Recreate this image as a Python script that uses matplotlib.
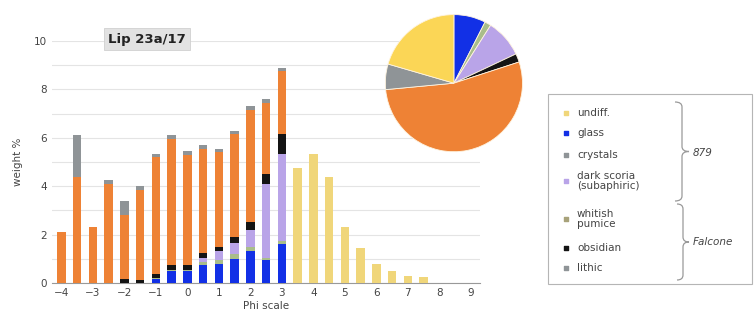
import numpy as np
import matplotlib
matplotlib.use("Agg")
import matplotlib.pyplot as plt
from matplotlib.path import Path
from matplotlib.patches import PathPatch, Rectangle

# ---- data ----
phi = [-4, -3.5, -3, -2.5, -2, -1.5, -1, -0.5, 0, 0.5, 1, 1.5, 2, 2.5, 3]
glass    = [0, 0, 0, 0, 0, 0, 0.15, 0.5, 0.5, 0.75, 0.8, 1.0, 1.3, 0.95, 1.6]
crystals = [0, 0, 0, 0, 0, 0, 0.05, 0.05, 0.05, 0.1, 0.15, 0.2, 0.2, 0.1, 0.15]
scoria   = [0, 0, 0, 0, 0, 0, 0, 0, 0, 0.2, 0.35, 0.45, 0.7, 3.05, 3.6]
obsidian = [0, 0, 0, 0, 0.15, 0.12, 0.15, 0.2, 0.2, 0.2, 0.2, 0.25, 0.3, 0.4, 0.8]
pumice   = [2.1, 4.4, 2.3, 4.1, 2.65, 3.73, 4.85, 5.2, 4.55, 4.3, 3.9, 4.25, 4.65, 2.95, 2.6]
lithic   = [0, 1.7, 0, 0.15, 0.6, 0.15, 0.15, 0.15, 0.15, 0.15, 0.15, 0.15, 0.15, 0.15, 0.15]

phi_fine = [3.5, 4, 4.5, 5, 5.5, 6, 6.5, 7, 7.5]
undiff   = [4.75, 5.35, 4.4, 2.3, 1.45, 0.8, 0.5, 0.3, 0.25]

pie_labels = ["glass", "crystals", "dark scoria", "obsidian", "whitish pumice", "lithic", "undiff."]
pie_vals = [7.5, 1.5, 9, 2, 53.5, 6, 20.5]

legend_labels = ["undiff.", "glass", "crystals", "dark scoria\n(subaphiric)",
                 "whitish\npumice", "obsidian", "lithic"]

c_undiff = "#f0d67a"
c_glass = "#1230e6"
c_cryst = "#a9bd8a"
c_scoria = "#b9a4e8"
c_obs = "#141414"
c_pum = "#ee8235"
c_lith = "#8f9497"

fig = plt.figure(figsize=(7.54, 3.23), dpi=100)
ax = fig.add_axes([0.069, 0.124, 0.568, 0.749])

w = 0.27
bottom = np.zeros(len(phi))
for vals, col in [(glass, c_glass), (crystals, c_cryst), (scoria, c_scoria),
                  (obsidian, c_obs), (pumice, c_pum), (lithic, c_lith)]:
    ax.bar(phi, vals, width=w, bottom=bottom, color=col, zorder=3)
    bottom += np.array(vals)
ax.bar(phi_fine, undiff, width=w, color=c_undiff, zorder=3)

ax.set_xlim(-4.3, 9.3)
ax.set_ylim(0, 10)
ax.set_xticks(range(-4, 10))
ax.set_yticks(range(0, 11, 2))
ax.set_yticks(range(0, 11), minor=True)
ax.grid(axis="y", which="both", color="#e4e4e4", lw=0.8, zorder=0)
ax.tick_params(axis="both", which="both", length=0, labelsize=7.5, colors="#444444")
for s in ["top", "right", "left"]:
    ax.spines[s].set_visible(False)
ax.spines["bottom"].set_color("#999999")
ax.set_xlabel("Phi scale", fontsize=7.5, color="#444444", labelpad=2)
ax.set_ylabel("weight %", fontsize=7.5, color="#444444", labelpad=8)

# pie
pax = fig.add_axes([0.509, 0.526, 0.186, 0.433])
pax.pie(pie_vals, colors=[c_glass, c_cryst, c_scoria, c_obs, c_pum, c_lith, "#fbd656"],
        startangle=90, counterclock=False,
        wedgeprops=dict(edgecolor="#fff4e0", linewidth=0.6))
pax.set_xlim(-1.02, 1.02)
pax.set_ylim(-1.02, 1.02)
pax.set_aspect("equal")

# overlay in pixel coordinates for title box and legend
ov = fig.add_axes([0, 0, 1, 1], zorder=5)
ov.set_xlim(0, 754)
ov.set_ylim(323, 0)
ov.axis("off")

ov.text(147, 39, "Lip 23a/17", fontsize=9.5, fontweight="bold", ha="center", va="center",
        color="#222222",
        bbox=dict(boxstyle="square,pad=0.35", fc="#e2e2e2", ec="#d0d0d0", lw=0.6))

ov.add_patch(Rectangle((548, 94), 204, 190, fc="white", ec="#b5b5b5", lw=0.8))
leg_cols = [c_undiff, c_glass, c_lith, c_scoria, "#a8a27a", c_obs, c_lith]
leg_y = [113, 133, 155, 181, 219, 248, 268]
for lab, col, yy in zip(legend_labels, leg_cols, leg_y):
    ov.scatter([566], [yy], s=9, marker="s", color=col)
    ov.text(577, yy, lab, fontsize=7.5, color="#444444", va="center", ha="left",
            linespacing=0.95)


def brace(x0, y0, y1, wd):
    h = wd / 2.0
    ym = (y0 + y1) / 2.0
    r = 5
    verts = [(x0, y0), (x0 + h, y0), (x0 + h, y0 + r),
             (x0 + h, ym - r), (x0 + h, ym), (x0 + 2 * h, ym),
             (x0 + h, ym), (x0 + h, ym + r),
             (x0 + h, y1 - r), (x0 + h, y1), (x0, y1)]
    codes = [Path.MOVETO, Path.CURVE3, Path.CURVE3,
             Path.LINETO, Path.CURVE3, Path.CURVE3,
             Path.CURVE3, Path.CURVE3,
             Path.LINETO, Path.CURVE3, Path.CURVE3]
    ov.add_patch(PathPatch(Path(verts, codes), fc="none", ec="#9a9a9a", lw=0.9))


brace(675, 102, 201, 14)
brace(677, 204, 280, 12)
ov.text(693, 153, "879", fontsize=7.5, color="#444444", va="center", style="italic")
ov.text(693, 242, "Falcone", fontsize=7.5, color="#444444", va="center", style="italic")

fig.savefig("out.png", dpi=100)
